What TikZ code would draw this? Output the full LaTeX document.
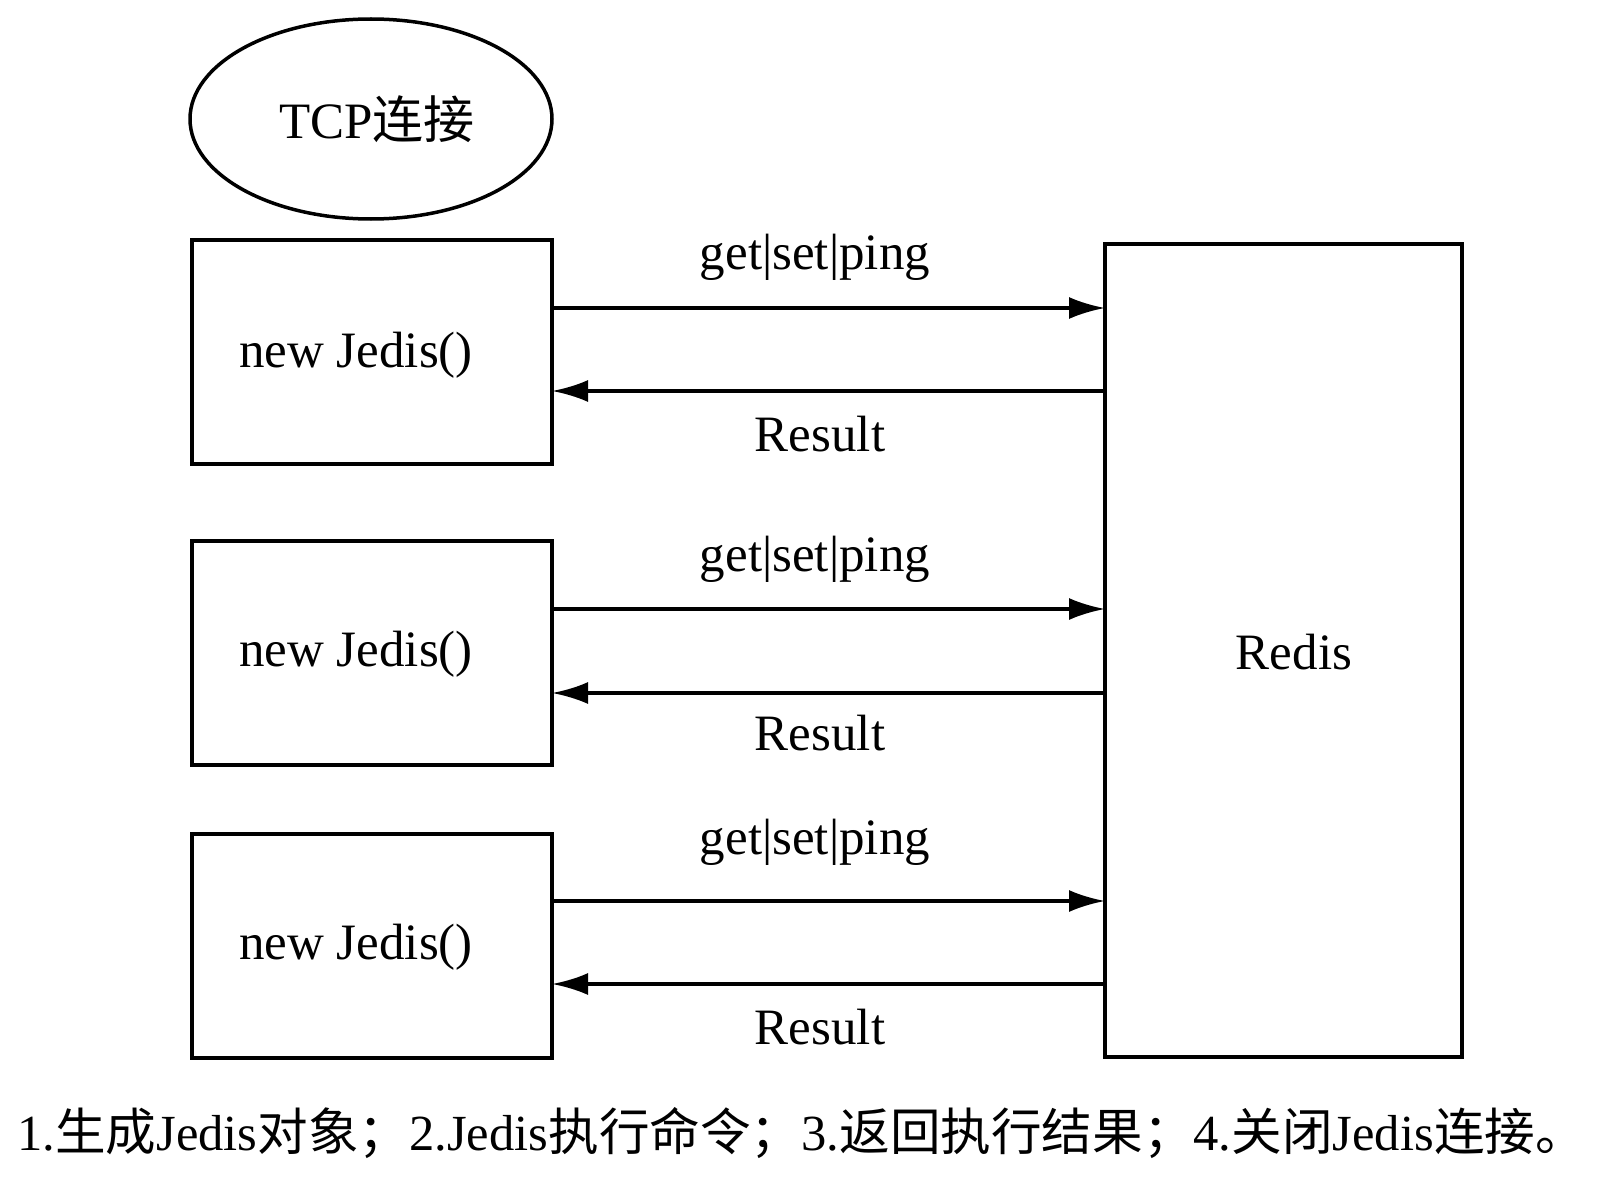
\documentclass[tikz,border=0pt]{standalone}
\usepackage{fontspec}
\setmainfont{Liberation Serif}
\newfontfamily\cjk{Noto Sans CJK SC}
\usetikzlibrary{arrows.meta,shapes.geometric}
\begin{document}
\begin{tikzpicture}[x=1pt,y=-1pt,
  box/.style={draw,line width=3.5pt,minimum width=360pt,minimum height=224pt,inner sep=0pt,outer sep=0pt,anchor=north west},
  lbl/.style={font=\fontsize{51pt}{60pt}\selectfont,inner sep=0pt},
  arr/.style={line width=3.5pt,-{Latex[length=36pt,width=22pt]}}]
\useasboundingbox[fill=white] (0,0) rectangle (1598,1180);
% TCP ellipse
\node[ellipse,draw,line width=3.5pt,minimum width=362pt,minimum height=200pt,inner sep=0pt] (tcp) at (371,119) {};
\node[lbl] (tcpt) at (377,119) {TCP{\cjk 连接}};
% client boxes
\node[box] (b1) at (192,240) {};
\node[box] (b2) at (192,541) {};
\node[box] (b3) at (192,834) {};
\node[lbl] (t1) at (356,355) {new Jedis()};
\node[lbl] (t2) at (356,654) {new Jedis()};
\node[lbl] (t3) at (356,947) {new Jedis()};
% Redis
\node[draw,line width=3.5pt,minimum width=357pt,minimum height=813pt,inner sep=0pt,outer sep=0pt,anchor=north west] (redis) at (1105,244) {};
\node[lbl] (rt) at (1294,652) {Redis};
% coordinates of arrow rows
\coordinate (r1a) at (0,308); \coordinate (r1b) at (0,391);
\coordinate (r2a) at (0,609); \coordinate (r2b) at (0,693);
\coordinate (r3a) at (0,901); \coordinate (r3b) at (0,984);
\draw[arr] (b1.east |- r1a) -- (redis.west |- r1a);
\draw[arr] (redis.west |- r1b) -- (b1.east |- r1b);
\draw[arr] (b2.east |- r2a) -- (redis.west |- r2a);
\draw[arr] (redis.west |- r2b) -- (b2.east |- r2b);
\draw[arr] (b3.east |- r3a) -- (redis.west |- r3a);
\draw[arr] (redis.west |- r3b) -- (b3.east |- r3b);
% labels
\node[lbl] (g1) at (815,257) {get|set|ping};
\node[lbl] (s1) at (820,434) {Result};
\node[lbl] (g2) at (815,559) {get|set|ping};
\node[lbl] (s2) at (820,733) {Result};
\node[lbl] (g3) at (815,842) {get|set|ping};
\node[lbl] (s3) at (820,1027) {Result};
% caption
\node[font=\fontsize{50.6pt}{60pt}\selectfont,inner sep=0pt,anchor=west] (cap) at (17,1133)
  {1.{\cjk 生成}Jedis{\cjk 对象；}2.Jedis{\cjk 执行命令；}3.{\cjk 返回执行结果；}4.{\cjk 关闭}Jedis{\cjk 连接。}};
\end{tikzpicture}
\end{document}
